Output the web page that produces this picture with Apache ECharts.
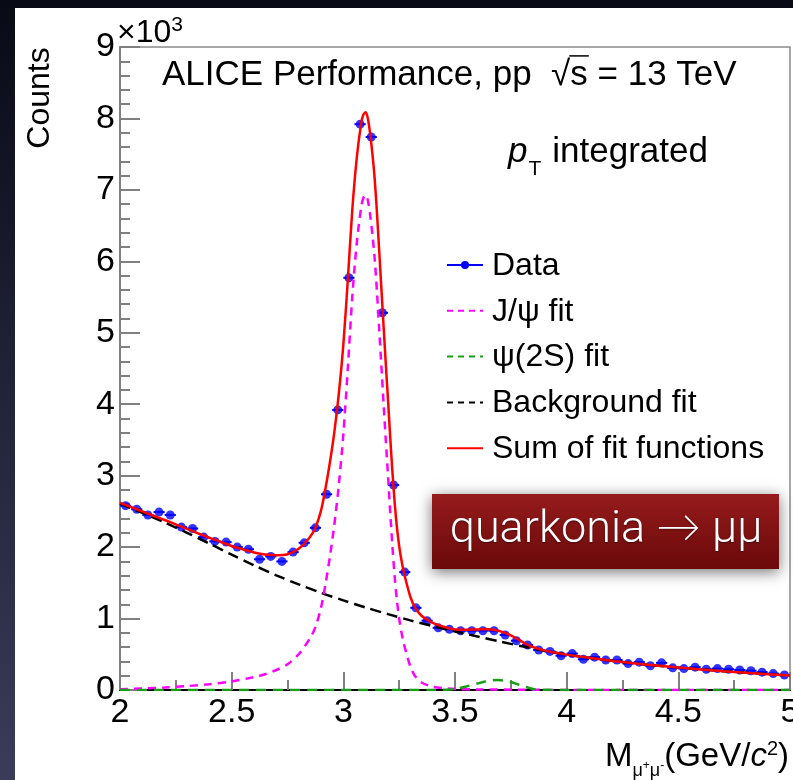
<!DOCTYPE html>
<html>
<head>
<meta charset="utf-8">
<title>ALICE Performance – dimuon invariant mass</title>
<script src="https://cdn.jsdelivr.net/npm/echarts@6/dist/echarts.min.js"></script>
<style>
  html, body { margin: 0; padding: 0; background: #0b0d1a; }
  #chart { width: 793px; height: 780px; }
</style>
</head>
<body>
<div id="chart"></div>
<script>
// Dimuon invariant-mass histogram, pp at 13 TeV, pT integrated.
// Bin centres (GeV/c^2), 0.05 GeV wide bins.
const binCenters = [
  2.025, 2.075, 2.125, 2.175, 2.225, 2.275, 2.325, 2.375, 2.425, 2.475,
  2.525, 2.575, 2.625, 2.675, 2.725, 2.775, 2.825, 2.875, 2.925, 2.975,
  3.025, 3.075, 3.125, 3.175, 3.225, 3.275, 3.325, 3.375, 3.425, 3.475,
  3.525, 3.575, 3.625, 3.675, 3.725, 3.775, 3.825, 3.875, 3.925, 3.975,
  4.025, 4.075, 4.125, 4.175, 4.225, 4.275, 4.325, 4.375, 4.425, 4.475,
  4.525, 4.575, 4.625, 4.675, 4.725, 4.775, 4.825, 4.875, 4.925, 4.975
];
// Counts per bin
const counts = [
  2580, 2530, 2450, 2490, 2450, 2280, 2260, 2140, 2080, 2070,
  2000, 1970, 1830, 1870, 1800, 1930, 2060, 2270, 2740, 3920,
  5770, 7920, 7740, 5280, 2870, 1650, 1150, 970, 870, 850,
  830, 830, 830, 830, 770, 690, 630, 560, 540, 480,
  510, 430, 460, 420, 420, 370, 390, 340, 380, 310,
  300, 320, 290, 300, 290, 280, 270, 250, 230, 210
];

// Background fit
const bkgMass = [2.0, 2.1, 2.2, 2.3, 2.4, 2.5, 2.6, 2.7, 2.8, 2.9, 3.0, 3.1, 3.2, 3.3, 3.4, 3.5,
                 3.6, 3.7, 3.8, 3.9, 4.0, 4.1, 4.2, 4.3, 4.4, 4.5, 4.6, 4.7, 4.8, 4.9, 5.0];
const bkgFit  = [2610, 2480, 2345, 2200, 2050, 1895, 1745, 1605, 1478, 1360, 1255, 1155, 1062, 975, 895, 820,
                 750, 680, 612, 550, 495, 450, 410, 373, 342, 314, 288, 264, 242, 221, 202];

// J/psi signal fit
const jpsiMass = [2.0, 2.1, 2.2, 2.3, 2.4, 2.5, 2.6, 2.65, 2.7, 2.75,
                  2.8, 2.85, 2.875, 2.9, 2.92, 2.94, 2.96, 2.98, 3.0, 3.02,
                  3.04, 3.06, 3.08, 3.09, 3.1, 3.11, 3.12, 3.13, 3.14, 3.15,
                  3.16, 3.17, 3.18, 3.19, 3.2, 3.21, 3.22, 3.23, 3.24, 3.25,
                  3.26, 3.27, 3.28, 3.3, 3.32, 3.35, 3.4, 3.45, 3.5, 3.6,
                  3.8, 4.0, 5.0];
const jpsiFit  = [10, 20, 35, 55, 80, 120, 180, 220, 280, 360,
                  500, 720, 880, 1150, 1480, 1870, 2320, 2880, 3580, 4500,
                  5500, 6250, 6760, 6890, 6930, 6850, 6650, 6380, 6050, 5600,
                  5080, 4550, 4020, 3500, 3000, 2480, 2000, 1580, 1250, 1000,
                  810, 660, 540, 330, 200, 105, 45, 25, 15, 8,
                  4, 0, 0];

// psi(2S) signal fit
const psi2sMass = [2.0, 3.4, 3.45, 3.5, 3.55, 3.6, 3.63, 3.66, 3.69, 3.72, 3.75, 3.8, 3.85, 3.9, 4.0, 5.0];
const psi2sFit  = [0, 0, 3, 12, 50, 90, 115, 133, 140, 132, 112, 60, 15, 3, 0, 0];

// Sum of fit functions
const sumMass = [2.0, 2.05, 2.1, 2.15, 2.2, 2.25, 2.3, 2.35, 2.4, 2.45,
                 2.5, 2.55, 2.6, 2.65, 2.7, 2.75, 2.8, 2.85, 2.875, 2.9,
                 2.92, 2.94, 2.96, 2.98, 3.0, 3.02, 3.04, 3.06, 3.08, 3.09,
                 3.1, 3.11, 3.12, 3.13, 3.14, 3.15, 3.16, 3.17, 3.18, 3.19,
                 3.2, 3.21, 3.22, 3.23, 3.24, 3.25, 3.26, 3.27, 3.28, 3.3,
                 3.32, 3.35, 3.4, 3.45, 3.5, 3.55, 3.6, 3.65, 3.7, 3.75,
                 3.8, 3.85, 3.9, 3.95, 4.0, 4.1, 4.2, 4.3, 4.4, 4.5,
                 4.6, 4.7, 4.8, 4.9, 5.0];
const sumFit  = [2620, 2560, 2500, 2439, 2380, 2317, 2255, 2192, 2130, 2075,
                 2015, 1970, 1925, 1895, 1885, 1900, 1978, 2139, 2270, 2510,
                 2819, 3188, 3617, 4156, 4835, 5735, 6715, 7445, 7935, 8055,
                 8085, 7996, 7786, 7507, 7168, 6708, 6179, 5640, 5101, 4571,
                 4062, 3533, 3045, 2616, 2277, 2018, 1820, 1661, 1532, 1305,
                 1159, 1040, 940, 885, 847, 845, 848, 849, 824, 765,
                 676, 599, 555, 523, 495, 450, 410, 373, 342, 314,
                 288, 264, 242, 221, 202];

// Tick labels
const xTickLabels = ['2', '2.5', '3', '3.5', '4', '4.5', '5'];
const yTickLabels = ['0', '1', '2', '3', '4', '5', '6', '7', '8', '9'];

// Legend entries
const legendLabels = ['Data', 'J/\u03c8 fit', '\u03c8(2S) fit', 'Background fit', 'Sum of fit functions'];

const FONT = "'Liberation Sans', Arial, Helvetica, sans-serif";
const COL = { data: '#0000ff', jpsi: '#ff00ff', psi2s: '#16a016', bkg: '#000000', sum: '#ff0000' };

const pairs = (xs, ys) => xs.map((x, i) => [x, ys[i]]);

// text measuring for laying out sub/superscript runs
const meas = document.createElement('canvas').getContext('2d');
function textWidth(t, size, style) {
  meas.font = (style || 'normal') + ' ' + size + 'px ' + FONT;
  return meas.measureText(t).width;
}
// place a run of text pieces on a common baseline
function textRun(pieces, x0, baseline, align) {
  const widths = pieces.map(p => textWidth(p.t, p.size, p.style) + (p.gap || 0));
  const total = widths.reduce((a, b) => a + b, 0);
  let x = align === 'right' ? x0 - total : x0;
  const els = [];
  const spans = [];
  pieces.forEach((p, i) => {
    const by = baseline + (p.dy || 0);
    els.push({
      type: 'text', x: x, y: by - 0.31 * p.size, z: 30, silent: true,
      style: {
        text: p.t, fill: p.fill || '#000', fontSize: p.size, fontFamily: FONT,
        fontStyle: p.style || 'normal', align: 'left', verticalAlign: 'middle'
      }
    });
    spans.push({ x: x, w: widths[i] - (p.gap || 0), size: p.size, baseline: by });
    x += widths[i];
  });
  return { els, spans };
}

const graphics = [];
// slide backdrop and white canvas
graphics.push({
  type: 'rect', z: -20, silent: true, shape: { x: 0, y: 0, width: 793, height: 780 },
  style: { fill: new echarts.graphic.LinearGradient(0, 0, 0, 1, [
    { offset: 0, color: '#080a16' }, { offset: 1, color: '#3a3c5a' }]) }
});
graphics.push({
  type: 'rect', z: -10, silent: true, shape: { x: 15, y: 8, width: 778, height: 772 },
  style: { fill: '#ffffff' }
});

// axis titles
graphics.push({
  type: 'text', x: 40, y: 98, rotation: Math.PI / 2, z: 30, silent: true,
  style: { text: 'Counts', fill: '#000', fontSize: 32, fontFamily: FONT, align: 'center', verticalAlign: 'middle' }
});
graphics.push(...textRun([
  { t: '\u00d710', size: 32 }, { t: '3', size: 21, dy: -11 }
], 117, 43).els);
graphics.push(...textRun([
  { t: 'M', size: 33 },
  { t: '\u03bc', size: 18, dy: 10 }, { t: '+', size: 12, dy: 2 },
  { t: '\u03bc', size: 18, dy: 10 }, { t: '-', size: 12, dy: 2 },
  { t: '(GeV/', size: 33 }, { t: 'c', size: 33, style: 'italic' },
  { t: '2', size: 20, dy: -11 }, { t: ')', size: 33 }
], 789, 767, 'right').els);

// headline with sqrt(s)
const head = textRun([
  { t: 'ALICE Performance, pp  ', size: 35 },
  { t: '\u221a', size: 35 },
  { t: 's', size: 35 },
  { t: ' = 13 TeV', size: 35 }
], 162, 86);
graphics.push(...head.els);
const sSpan = head.spans[2];
graphics.push({
  type: 'line', z: 30, silent: true,
  shape: { x1: sSpan.x - 1, y1: sSpan.baseline - 0.86 * sSpan.size, x2: sSpan.x + sSpan.w + 1, y2: sSpan.baseline - 0.86 * sSpan.size },
  style: { stroke: '#000', lineWidth: 1.5 }
});
graphics.push(...textRun([
  { t: 'p', size: 35, style: 'italic', gap: 1 }, { t: 'T', size: 21, dy: 13, gap: 11 }, { t: 'integrated', size: 35 }
], 508, 163).els);

// legend
const legendY0 = 265, legendStep = 45.8;
const legendStyles = [
  { c: COL.data, dash: null, dot: true },
  { c: COL.jpsi, dash: [6, 5] },
  { c: COL.psi2s, dash: [6, 5] },
  { c: COL.bkg, dash: [6, 5] },
  { c: COL.sum, dash: null }
];
legendLabels.forEach((lab, i) => {
  const y = legendY0 + i * legendStep;
  const s = legendStyles[i];
  graphics.push({
    type: 'line', z: 30, silent: true, shape: { x1: 447, y1: y, x2: 483, y2: y },
    style: { stroke: s.c, lineWidth: 2, lineDash: s.dash }
  });
  if (s.dot) {
    graphics.push({ type: 'circle', z: 31, silent: true, shape: { cx: 465, cy: y, r: 4 }, style: { fill: s.c } });
  }
  graphics.push({
    type: 'text', x: 492, y: y + 1, z: 30, silent: true,
    style: { text: lab, fill: '#000', fontSize: 32, fontFamily: FONT, align: 'left', verticalAlign: 'middle' }
  });
});

// slide tag
graphics.push({
  type: 'rect', z: 40, silent: true, shape: { x: 432, y: 494, width: 347, height: 75 },
  style: {
    fill: new echarts.graphic.LinearGradient(0, 0, 0, 1, [
      { offset: 0, color: '#961b1c' }, { offset: 1, color: '#6a0909' }]),
    shadowBlur: 14, shadowColor: 'rgba(0,0,0,0.55)', shadowOffsetY: 3
  }
});
graphics.push({
  type: 'text', x: 606, y: 531, z: 41, silent: true,
  style: {
    text: 'quarkonia \u2192 \u03bc\u03bc', fill: '#ffffff', fontSize: 45, fontWeight: 300,
    fontFamily: "Roboto, 'Open Sans', Lato, sans-serif", align: 'center', verticalAlign: 'middle',
    textShadowColor: 'rgba(0,0,0,0.45)', textShadowBlur: 2, textShadowOffsetY: 1
  }
});

const halfBin = 0.025;
const lineSeries = (name, xs, ys, color, width, dash, z) => ({
  name, type: 'line', data: pairs(xs, ys), showSymbol: false, symbol: 'none',
  smooth: 0.3, clip: true, z,
  lineStyle: { color, width, type: dash || 'solid' }, silent: true
});

const option = {
  animation: false,
  backgroundColor: 'transparent',
  grid: {
    left: 120, right: 3, top: 47, bottom: 90, show: true,
    borderColor: '#8a8a8a', borderWidth: 1.5, backgroundColor: 'transparent',
    containLabel: false, outerBoundsMode: 'none'
  },
  xAxis: {
    type: 'value', min: 2, max: 5, interval: 0.5,
    axisLine: { show: true, onZero: false, lineStyle: { color: '#000', width: 2 } },
    axisTick: { show: true, inside: true, length: 18, lineStyle: { color: '#808080', width: 2 } },
    minorTick: { show: true, splitNumber: 2, length: 10, lineStyle: { color: '#808080', width: 2 } },
    splitLine: { show: false }, minorSplitLine: { show: false },
    axisLabel: {
      show: true, color: '#000', fontSize: 34, fontFamily: FONT, margin: 6,
      showMinLabel: true, showMaxLabel: true,
      formatter: v => xTickLabels[Math.round((v - 2) / 0.5)]
    }
  },
  yAxis: {
    type: 'value', min: 0, max: 9000, interval: 1000,
    axisLine: { show: true, onZero: false, lineStyle: { color: '#808080', width: 2 } },
    axisTick: { show: true, inside: true, length: 20, lineStyle: { color: '#808080', width: 2 } },
    minorTick: { show: true, splitNumber: 5, length: 10, lineStyle: { color: '#808080', width: 2 } },
    splitLine: { show: false }, minorSplitLine: { show: false },
    axisLabel: {
      show: true, color: '#000', fontSize: 34, fontFamily: FONT, margin: 5,
      showMinLabel: true, showMaxLabel: true,
      formatter: v => yTickLabels[Math.round(v / 1000)]
    }
  },
  series: [
    {
      name: 'Data bins', type: 'custom', z: 2, silent: true,
      data: pairs(binCenters, counts),
      renderItem: (params, api) => {
        const l = api.coord([api.value(0) - halfBin, api.value(1)]);
        const r = api.coord([api.value(0) + halfBin, api.value(1)]);
        return { type: 'line', shape: { x1: l[0], y1: l[1], x2: r[0], y2: r[1] }, style: { stroke: COL.data, lineWidth: 2 } };
      }
    },
    {
      name: 'Data', type: 'scatter', z: 3, silent: true, symbol: 'circle', symbolSize: 9,
      data: pairs(binCenters, counts), itemStyle: { color: COL.data }
    },
    lineSeries('Background fit', bkgMass, bkgFit, COL.bkg, 2.5, [11, 6], 4),
    lineSeries('J/\u03c8 fit', jpsiMass, jpsiFit, COL.jpsi, 2.5, [8, 6], 4),
    lineSeries('\u03c8(2S) fit', psi2sMass, psi2sFit, COL.psi2s, 2.5, [10, 7], 4),
    lineSeries('Sum of fit functions', sumMass, sumFit, COL.sum, 2.5, null, 5)
  ],
  graphic: { elements: graphics }
};

const chart = echarts.init(document.getElementById('chart'), null, { renderer: 'canvas' });
chart.setOption(option);
</script>
</body>
</html>
